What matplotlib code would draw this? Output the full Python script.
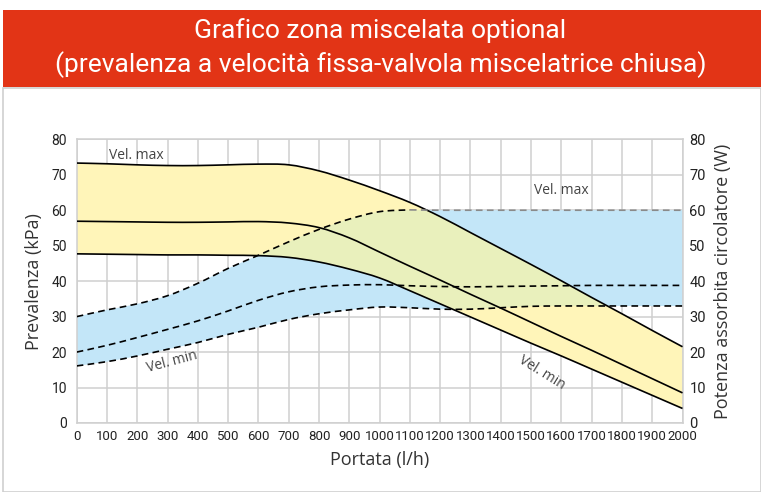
import numpy as np
import matplotlib
matplotlib.use("Agg")
import matplotlib.pyplot as plt
from matplotlib.patches import Rectangle, PathPatch
from matplotlib.path import Path

# portata (l/h)
portata = [0, 100, 200, 300, 400, 500, 600, 700, 800, 900, 1000,
           1100, 1200, 1300, 1400, 1500, 1600, 1700, 1800, 1900, 2000]

# prevalenza (kPa)
prev_max = [73.3, 73.1, 72.8, 72.6, 72.6, 72.8, 73.0, 72.8, 71.1, 68.5, 65.5,
            62.2, 58.2, 53.7, 49.2, 44.7, 40.1, 35.4, 30.8, 26.1, 21.5]
prev_med = [56.9, 56.8, 56.7, 56.6, 56.6, 56.7, 56.8, 56.4, 55.1, 52.2, 48.2,
            44.2, 40.3, 36.3, 32.4, 28.4, 24.4, 20.5, 16.5, 12.5, 8.5]
prev_min = [47.7, 47.6, 47.5, 47.4, 47.4, 47.3, 47.2, 46.7, 45.4, 43.4, 40.9,
            37.3, 33.6, 29.9, 26.2, 22.5, 18.9, 15.2, 11.5, 7.8, 4.1]

# potenza assorbita (W)
pot_max = [30.0, 31.9, 33.6, 35.9, 39.4, 43.6, 47.3, 51.1, 54.6, 57.5, 59.6,
           60.1, 60.0, 60.0, 60.0, 60.0, 60.0, 60.0, 60.0, 60.0, 60.0]
pot_med = [20.0, 21.9, 24.1, 26.4, 28.8, 31.6, 34.6, 37.0, 38.4, 38.9, 39.0,
           38.7, 38.5, 38.4, 38.5, 38.6, 38.7, 38.8, 38.8, 38.8, 38.8]
pot_min = [16.1, 17.3, 18.9, 20.8, 22.7, 25.0, 27.0, 29.2, 30.8, 31.9, 32.7,
           32.5, 32.1, 32.1, 32.5, 32.9, 33.0, 33.0, 33.0, 33.0, 33.0]

x = np.array(portata, dtype=float)
plt.rcParams['font.family'] = ["Roboto", "DejaVu Sans"]


def curve(xs, ys, first=Path.MOVETO):
    # smooth bezier through the points (catmull-rom)
    p = np.column_stack([xs, ys]).astype(float)
    n = len(p)
    verts = [p[0]]
    codes = [first]
    for i in range(n - 1):
        p0 = p[max(i - 1, 0)]
        p3 = p[min(i + 2, n - 1)]
        verts += [p[i] + (p[i + 1] - p0) / 6, p[i + 1] - (p3 - p[i]) / 6, p[i + 1]]
        codes += [Path.CURVE4] * 3
    return verts, codes


def band(xs, lo, hi):
    v1, c1 = curve(xs, hi)
    v2, c2 = curve(xs[::-1], lo[::-1], first=Path.LINETO)
    return Path(v1 + v2 + [v1[0]], c1 + c2 + [Path.CLOSEPOLY])


def line(ax, xs, ys, **kw):
    v, c = curve(xs, ys)
    ax.add_patch(PathPatch(Path(v, c), fill=False, **kw))


fig = plt.figure(figsize=(7.61, 4.92), dpi=100)

# red title band + light frame
fig.patches.append(Rectangle((3/761, 0), 758/761, 1 - 88/492, transform=fig.transFigure,
                             facecolor='white', edgecolor='#cfcfcf', lw=1.2, zorder=-2))
fig.patches.append(Rectangle((3/761, 1 - 87/492), 758/761, 77/492, transform=fig.transFigure,
                             facecolor='#e23416', edgecolor='none', zorder=-1))
fig.text(0.5, 1 - 31/492, "Grafico zona miscelata optional", color='white',
         fontsize=19, ha='center', va='center')
fig.text(0.5, 1 - 65/492, "(prevalenza a velocità fissa-valvola miscelatrice chiusa)",
         color='white', fontsize=19, ha='center', va='center')

ax = fig.add_axes([76.7/761, 1 - 423/492, (682.5 - 76.7)/761, (423 - 139.3)/492])

yellow = '#fff5b9'
blue = '#c3e6f8'
green = '#e9f0bc'

blue_path = band(x, np.array(pot_min), np.array(pot_max))
yel_path = band(x, np.array(prev_min), np.array(prev_max))
ax.add_patch(PathPatch(blue_path, facecolor=blue, lw=0, zorder=1))
ax.add_patch(PathPatch(yel_path, facecolor=yellow, lw=0, zorder=1.5))
ov = PathPatch(yel_path, facecolor=green, lw=0, zorder=2)
ax.add_patch(ov)
ov.set_clip_path(blue_path, ax.transData)

for s in (prev_max, prev_med, prev_min):
    line(ax, x, s, edgecolor='black', lw=1.2, zorder=4)

dash = (0, (4, 2.6))
line(ax, x[:12], pot_max[:12], edgecolor='black', lw=1.2, ls=dash, zorder=4)
line(ax, x[11:], pot_max[11:], edgecolor='#8a8a8a', lw=1.2, ls=dash, zorder=4)
line(ax, x, pot_med, edgecolor='black', lw=1.2, ls=dash, zorder=4)
line(ax, x, pot_min, edgecolor='black', lw=1.2, ls=dash, zorder=4)

ax.set_xlim(0, 2000)
ax.set_ylim(0, 80)
ax.set_xticks(portata)
ax.set_yticks(range(0, 81, 10))
ax.grid(True, color='#cfcfcf', lw=1.1, zorder=0)
ax.set_axisbelow(True)
for sp in ax.spines.values():
    sp.set_color('#cfcfcf')
    sp.set_linewidth(1.1)
ax.tick_params(length=0, labelsize=10, colors='#222222', pad=5)
ax.tick_params(axis='x', labelsize=9.5)
ax.tick_params(axis='y', pad=7)

ax2 = ax.twinx()
ax2.set_ylim(0, 80)
ax2.set_yticks(range(0, 81, 10))
ax2.tick_params(length=0, labelsize=10.5, colors='#222222', pad=5)
for sp in ax2.spines.values():
    sp.set_visible(False)

ax.set_xlabel("Portata (l/h)", fontsize=13, color='#333333', labelpad=6,
              family=["Open Sans", "DejaVu Sans"])
ax.set_ylabel("Prevalenza (kPa)", fontsize=13, color='#333333', labelpad=6,
              family=["Open Sans", "DejaVu Sans"])
ax2.set_ylabel("Potenza assorbita circolatore (W)", fontsize=13, color='#333333',
               labelpad=6, family=["Open Sans", "DejaVu Sans"])

lab = dict(fontsize=10, color='#444444', zorder=5, family=["Open Sans", "DejaVu Sans"])
ax.text(105, 75.5, "Vel. max", ha='left', va='center', **lab)
ax.text(1600, 65.6, "Vel. max", ha='center', va='center', **lab)
ax.text(315, 17.3, "Vel. min", ha='center', va='center', rotation=15, **lab)
ax.text(1535, 14.2, "Vel. min", ha='center', va='center', rotation=-32, **lab)

fig.savefig("out.png", dpi=100)
